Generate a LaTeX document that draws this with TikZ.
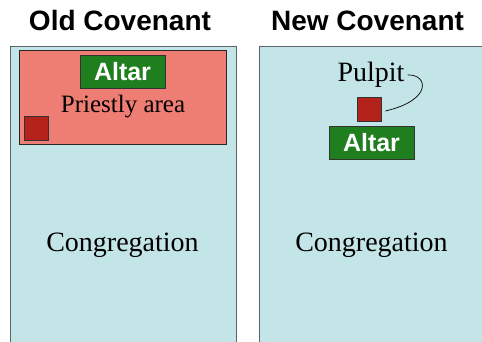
\documentclass[tikz,border=0pt]{standalone}
\usepackage{fontspec}
\setmainfont{Liberation Serif}
\newfontfamily\hv{Liberation Sans}
\definecolor{hall}{HTML}{C4E5E7}
\definecolor{hallline}{HTML}{5A6466}
\definecolor{priest}{HTML}{EE7D73}
\definecolor{pulpred}{HTML}{B3231B}
\definecolor{altargreen}{HTML}{1F7F1F}
\tikzset{
  hallbox/.style={draw=hallline, line width=1.2pt, fill=hall, anchor=north west, inner sep=0pt},
  priestbox/.style={draw=black!85, line width=0.9pt, fill=priest, anchor=north west, inner sep=0pt},
  altarbox/.style={draw=black!80, line width=0.9pt, fill=altargreen, text=white,
    font=\hv\bfseries\fontsize{25}{27}\selectfont, minimum width=85pt, minimum height=33pt, inner sep=0pt},
  pulpitbox/.style={draw=black!80, line width=0.8pt, fill=pulpred, minimum size=24pt, inner sep=0pt},
  heading/.style={font=\hv\bfseries\fontsize{28}{30}\selectfont, anchor=base},
  label/.style={font=\fontsize{28}{30}\selectfont, inner sep=2pt},
  smalllabel/.style={font=\fontsize{25}{28}\selectfont, inner sep=2pt}
}
\begin{document}
\begin{tikzpicture}[x=1pt, y=-1pt]
  \useasboundingbox (0,0) rectangle (482,341);
  \clip (0,0) rectangle (482,341);

  % headings
  \node[heading] (oldt) at (120,30) {Old Covenant};
  \node[heading] (newt) at (367.5,30) {New Covenant};

  % old covenant floor plan
  \node[hallbox, minimum width=226pt, minimum height=310pt] (oldhall) at (9.5,45.5) {};
  \node[priestbox, minimum width=207pt, minimum height=94pt] (priestly) at (19,50) {};
  \node[altarbox] (oldaltar) at (122.5,71.5) {Altar};
  \node[smalllabel] (priestlbl) at (123,107) {Priestly area};
  \node[pulpitbox] (oldpulpit) at (36,128) {};
  \node[label] (oldcong) at (122.5,245) {Congregation};

  % new covenant floor plan
  \node[hallbox, minimum width=226pt, minimum height=310pt] (newhall) at (259,45.5) {};
  \node[label] (pulpitlbl) at (371,75) {Pulpit};
  \node[pulpitbox] (newpulpit) at (369,109) {};
  \node[altarbox] (newaltar) at (371.5,142.5) {Altar};
  \node[label] (newcong) at (371.5,245) {Congregation};

  % leader from the pulpit label to the pulpit
  \draw[line width=0.7pt] ([shift={(4pt,-2pt)}]newpulpit.east)
    .. controls (433,100) and (428,74) .. ([xshift=1pt]pulpitlbl.east);
\end{tikzpicture}
\end{document}
